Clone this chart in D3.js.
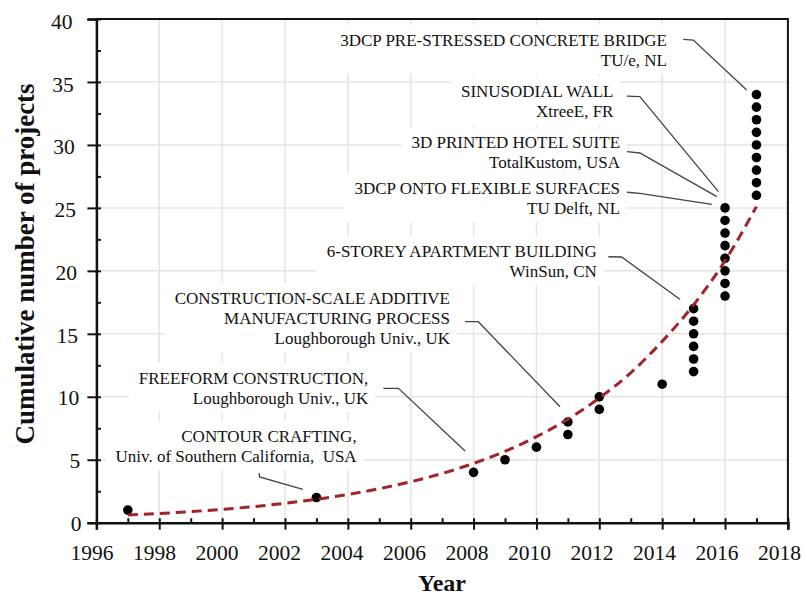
<!DOCTYPE html>
<html><head><meta charset="utf-8">
<script src="https://cdn.jsdelivr.net/npm/d3@7/dist/d3.min.js"></script>
<style>
body{margin:0;background:#fff}
svg{display:block}
text{font-family:"Liberation Serif","Times New Roman",Times,serif;fill:#111}
</style>
</head><body>
<svg id="chart" width="803" height="601"></svg>
<script>
// ---------------- data ----------------
const pointYears = [1997, 2003, 2008, 2009, 2010, 2011, 2011, 2012, 2012, 2014,
  2015, 2015, 2015, 2015, 2015, 2015,
  2016, 2016, 2016, 2016, 2016, 2016, 2016, 2016,
  2017, 2017, 2017, 2017, 2017, 2017, 2017, 2017, 2017];
const pointCounts = [1, 2, 4, 5, 6, 7, 8, 9, 10, 11,
  12, 13, 14, 15, 16, 17,
  18, 19, 20, 21, 22, 23, 24, 25,
  26, 27, 28, 29, 30, 31, 32, 33, 34];

// exponential trend line at each year
const trendYears = [1997, 1998, 1999, 2000, 2001, 2002, 2003, 2004, 2005, 2006, 2007,
  2008, 2009, 2010, 2011, 2012, 2013, 2014, 2015, 2016, 2017];
const trendValues = [0.61, 0.73, 0.88, 1.06, 1.28, 1.54, 1.86, 2.24, 2.70, 3.25, 3.91,
  4.71, 5.67, 6.83, 8.22, 9.90, 11.9, 14.4, 17.3, 20.8, 25.1];

const xTickLabels = [1996, 1998, 2000, 2002, 2004, 2006, 2008, 2010, 2012, 2014, 2016, 2018];
const yTickLabels = [0, 5, 10, 15, 20, 25, 30, 35, 40];

const annotationTexts = [
  ["3DCP PRE-STRESSED CONCRETE BRIDGE", "TU/e, NL"],
  ["SINUSODIAL WALL", "XtreeE, FR"],
  ["3D PRINTED HOTEL SUITE", "TotalKustom, USA"],
  ["3DCP ONTO FLEXIBLE SURFACES", "TU Delft, NL"],
  ["6-STOREY APARTMENT BUILDING", "WinSun, CN"],
  ["CONSTRUCTION-SCALE ADDITIVE", "MANUFACTURING PROCESS", "Loughborough Univ., UK"],
  ["FREEFORM CONSTRUCTION,", "Loughborough Univ., UK"],
  ["CONTOUR CRAFTING,", "Univ. of Southern California,  USA"]
];

const xTitle = "Year";
const yTitle = "Cumulative number of projects";

// annotation placement (data coordinates): text right edge / first baseline, leader polyline
const annotationLayout = [
  {at: [2014.15, 37.88], leader: [[2014.67, 38.39], [2014.99, 38.33], [2016.69, 34.36]]},
  {at: [2012.45, 33.83], leader: [[2012.88, 33.88], [2013.29, 33.83], [2015.79, 26.29]]},
  {at: [2012.66, 29.75], leader: [[2012.88, 29.46], [2013.29, 29.36], [2015.74, 25.89]]},
  {at: [2012.66, 26.08], leader: [[2012.88, 26.24], [2013.29, 26.16], [2015.58, 25.28]]},
  {at: [2011.92, 21.09], leader: [[2012.29, 21.12], [2012.71, 21.10], [2014.57, 17.73]]},
  {at: [2007.25, 17.37], leader: [[2007.73, 15.96], [2008.15, 15.96], [2010.75, 9.21]]},
  {at: [2004.65, 11.01], leader: [[2005.13, 10.67], [2005.61, 10.67], [2007.73, 5.69]]},
  {at: [2004.28, 6.43],  leader: [[2001.18, 3.95], [2001.19, 3.63], [2002.57, 2.65]]}
];

// ---------------- chart ----------------
const svg = d3.select("#chart");
const L = 96.4, R = 787.9, T = 19, B = 522.7;
const x = d3.scaleLinear().domain([1996, 2018]).range([L, R]);
const y = d3.scaleLinear().domain([0, 40]).range([B, T]);

// gridlines
const grid = svg.append("g").attr("stroke", "#e4e4e4").attr("stroke-width", 1.5);
grid.selectAll(".gx").data(xTickLabels.slice(1, -1)).join("line")
  .attr("x1", d => x(d)).attr("x2", d => x(d)).attr("y1", T).attr("y2", B);
grid.selectAll(".gy").data(yTickLabels.slice(1, -1)).join("line")
  .attr("x1", L).attr("x2", R).attr("y1", d => y(d)).attr("y2", d => y(d));

// annotations
const ann = svg.append("g");
const fs = 17, lh = 20;
annotationTexts.forEach((lines, i) => {
  const lay = annotationLayout[i];
  const g = ann.append("g");
  const rect = g.append("rect").attr("fill", "#fff");
  const tx = x(lay.at[0]), ty = y(lay.at[1]);
  lines.forEach((s, j) => {
    g.append("text").attr("x", tx).attr("y", ty + j * lh)
      .attr("text-anchor", "end").attr("font-size", fs).style("white-space", "pre").text(s);
  });
  const bb = g.node().getBBox();
  rect.attr("x", bb.x - 10).attr("y", bb.y - 6).attr("width", bb.width + 16).attr("height", bb.height + 10);
});
const leaderLine = d3.line().x(d => x(d[0])).y(d => y(d[1]));
ann.selectAll(".leader").data(annotationLayout).join("path")
  .attr("d", d => leaderLine(d.leader))
  .attr("fill", "none").attr("stroke", "#444").attr("stroke-width", 1.3);

// frame
svg.append("path")
  .attr("d", `M${L},${T}H${R}V${B}`)
  .attr("fill", "none").attr("stroke", "#111").attr("stroke-width", 2);

// x axis
const gx = svg.append("g").attr("transform", `translate(0,${B})`)
  .call(d3.axisBottom(x).tickValues(xTickLabels).tickSize(7).tickFormat(d3.format("d")));
gx.select(".domain").attr("stroke", "#111").attr("stroke-width", 2.5);
gx.selectAll(".tick line").attr("y1", -4.5).attr("stroke", "#111").attr("stroke-width", 2);
gx.selectAll(".tick text")
  .attr("font-size", 21.5).attr("font-family", "Liberation Serif, serif").attr("fill", "#111")
  .attr("y", 37.5).attr("dy", 0)
  .attr("dx", d => -5 - (d - 1996) * 0.18);
const minorX = xTickLabels.slice(0, -1).map(d => d + 1);
svg.append("g").attr("transform", `translate(0,${B})`)
  .call(d3.axisBottom(x).tickValues(minorX).tickSize(-4.5).tickFormat(""))
  .call(g => g.select(".domain").remove())
  .selectAll("line").attr("stroke", "#111").attr("stroke-width", 2);

// y axis
const gy = svg.append("g").attr("transform", `translate(${L},0)`)
  .call(d3.axisLeft(y).tickValues(yTickLabels).tickSize(9).tickFormat(d3.format("d")));
gy.select(".domain").attr("stroke", "#111").attr("stroke-width", 2.5);
gy.selectAll(".tick line").attr("x1", 4.5).attr("stroke", "#111").attr("stroke-width", 2);
gy.selectAll(".tick text")
  .attr("font-size", 21.5).attr("font-family", "Liberation Serif, serif").attr("fill", "#111")
  .attr("x", d => -15 - d * 0.22).attr("dy", d => (7.5 + d * 0.05) + "px")
  .attr("dominant-baseline", "alphabetic");
const minorY = yTickLabels.slice(0, -1).map(d => d + 2.5);
svg.append("g").attr("transform", `translate(${L},0)`)
  .call(d3.axisLeft(y).tickValues(minorY).tickSize(-4.5).tickFormat(""))
  .call(g => g.select(".domain").remove())
  .selectAll("line").attr("stroke", "#111").attr("stroke-width", 2);

// points
svg.append("g").selectAll("circle").data(pointYears.map((d, i) => [d, pointCounts[i]])).join("circle")
  .attr("cx", d => x(d[0])).attr("cy", d => y(d[1])).attr("r", 4.8).attr("fill", "#000");

// trend curve
const trend = d3.line().x(d => x(d[0])).y(d => y(d[1])).curve(d3.curveMonotoneX);
svg.append("path").datum(trendYears.map((d, i) => [d, trendValues[i]]))
  .attr("d", trend).attr("fill", "none")
  .attr("stroke", "#a3232a").attr("stroke-width", 3).attr("stroke-dasharray", "10,6");

// axis titles
svg.append("text").attr("x", 442).attr("y", 591).attr("text-anchor", "middle")
  .attr("font-size", 24).attr("font-weight", "bold").text(xTitle);
svg.append("text").attr("transform", "translate(33.5,264) rotate(-90)").attr("text-anchor", "middle")
  .attr("font-size", 27).attr("font-weight", "bold").text(yTitle);
</script>
</body></html>
